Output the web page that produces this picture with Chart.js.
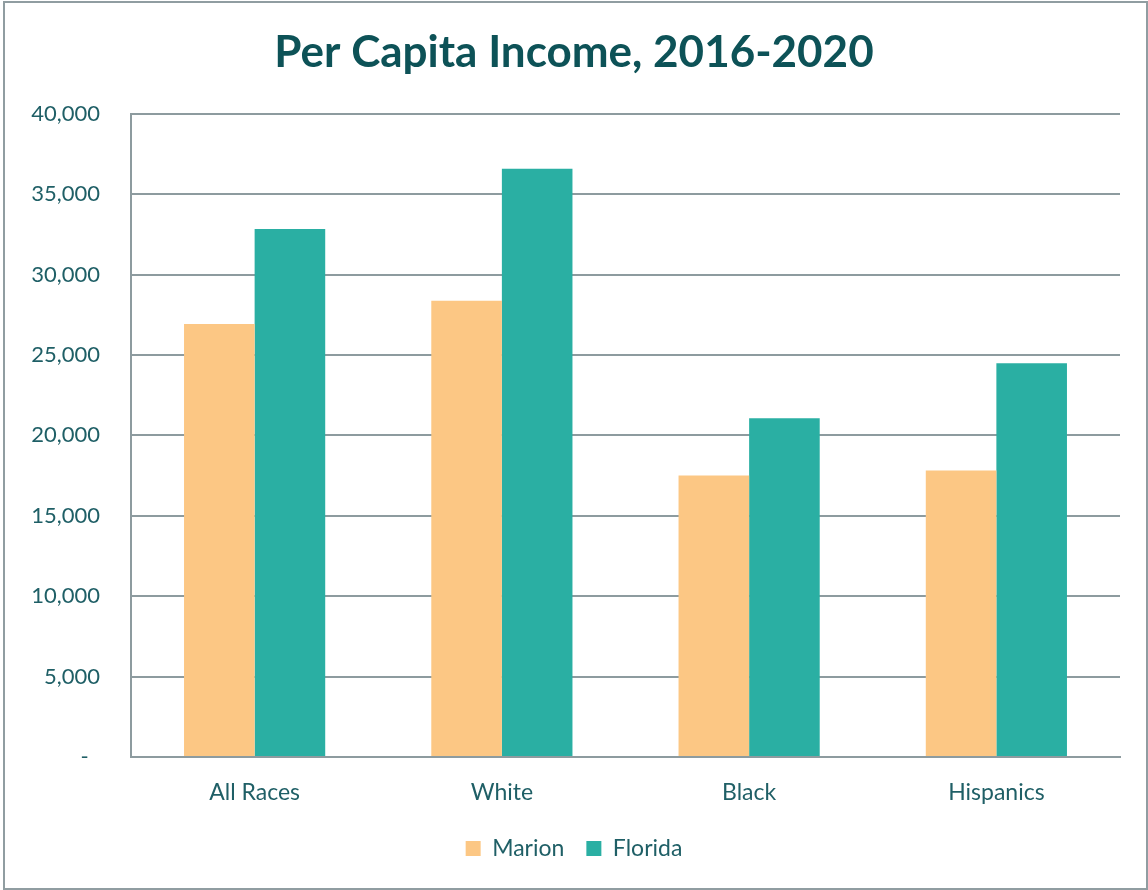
<!DOCTYPE html>
<html>
<head>
<meta charset="utf-8">
<script src="https://cdn.jsdelivr.net/npm/chart.js@4"></script>
<style>
  html, body { margin: 0; padding: 0; background: #fff; }
  #wrap { position: absolute; left: 0; top: 0; width: 1148px; height: 890px; }
  #frame { position: absolute; left: 3px; top: 1px; width: 1141px; height: 885px; border: 2px solid #909da1; pointer-events: none; }
</style>
</head>
<body>
<div id="wrap">
  <canvas id="chart" width="1148" height="890"></canvas>
  <div id="frame"></div>
</div>
<script>
const categories = ["All Races", "White", "Black", "Hispanics"];
const marion = [26930, 28380, 17500, 17810];
const florida = [32830, 36590, 21070, 24490];
const yTicks = [0, 5000, 10000, 15000, 20000, 25000, 30000, 35000, 40000];

const teal = "#1f5f66";
const gridGray = "#8d9b9f";
const font = "Lato, 'Open Sans', sans-serif";

// excel accounting style: zero shows as a dash
const fmt = (v) => v === 0 ? "-  " : v.toLocaleString("en-US");

new Chart(document.getElementById("chart"), {
  type: "bar",
  data: {
    labels: categories,
    datasets: [
      { label: "Marion", data: marion, backgroundColor: "#fcc784" },
      { label: "Florida", data: florida, backgroundColor: "#2aafa3" }
    ]
  },
  options: {
    responsive: false,
    animation: false,
    datasets: { bar: { categoryPercentage: 0.571, barPercentage: 1.0 } },
    layout: { padding: { left: 28, right: 28, top: 0, bottom: 20 } },
    plugins: {
      title: {
        display: true,
        text: "Per Capita Income, 2016-2020",
        color: "#0d5257",
        font: { family: font, size: 44, weight: "bold" },
        padding: { top: 26, bottom: 35 }
      },
      legend: {
        position: "bottom",
        labels: {
          color: teal,
          font: { family: font, size: 23 },
          boxWidth: 15,
          boxHeight: 15,
          padding: 22
        }
      },
      tooltip: { enabled: false }
    },
    scales: {
      x: {
        grid: { display: false },
        border: { display: true, color: gridGray, width: 2 },
        ticks: { color: teal, font: { family: font, size: 23 }, padding: 14 },
        afterFit: (s) => { s.height = 58; }
      },
      y: {
        min: 0,
        max: 40000,
        afterBuildTicks: (s) => { s.ticks = yTicks.map(v => ({ value: v })); },
        grid: { color: gridGray, lineWidth: 2, drawTicks: false },
        border: { display: true, color: gridGray, width: 2 },
        ticks: {
          color: teal,
          font: { family: font, size: 22 },
          padding: 31,
          callback: fmt
        },
        afterFit: (s) => { s.width = 103; }
      }
    }
  }
});
</script>
</body>
</html>
